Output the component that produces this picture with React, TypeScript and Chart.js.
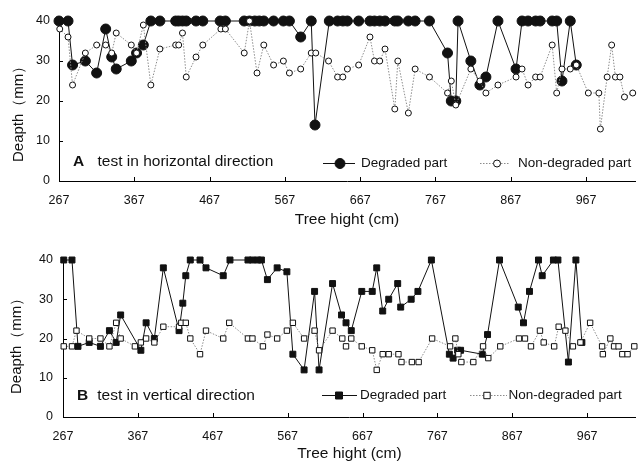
import { useEffect, useRef } from 'react';
import { Chart, registerables } from 'chart.js';

Chart.register(...registerables);

const FONT = "'Liberation Sans', Arial, Helvetica, sans-serif";

const xTickValues = [267, 367, 467, 567, 667, 767, 867, 967];
const yTickValues = [0, 10, 20, 30, 40];
const X_MIN = 267;
const X_MAX = 1032;
const Y_TITLE = 'Deapth（mm）';
const X_TITLE = 'Tree hight (cm)';

// Panel A: test in horizontal direction
const aDegX = [267, 279, 285, 302, 317, 329, 337, 343, 363, 370, 379, 389, 401, 422, 426, 431, 436, 449, 458, 481, 488, 513, 520, 527, 533, 539, 552, 565, 573, 588, 602, 607, 626, 637, 644, 650, 665, 680, 686, 693, 700, 713, 717, 731, 740, 759, 783, 788, 794, 797, 814, 826, 834, 850, 874, 882, 890, 900, 906, 922, 928, 935, 946, 954];
const aDegY = [40, 40, 29, 30, 27, 38, 31, 28, 30, 32, 34, 40, 40, 40, 40, 40, 40, 40, 40, 40, 40, 40, 40, 40, 40, 40, 40, 40, 40, 36, 40, 14, 40, 40, 40, 40, 40, 40, 40, 40, 40, 40, 40, 40, 40, 40, 32, 20, 20, 40, 30, 24, 26, 40, 28, 40, 40, 40, 40, 40, 40, 25, 40, 29];
const aNonX = [268, 279, 285, 302, 317, 329, 337, 343, 363, 370, 379, 389, 401, 422, 426, 431, 436, 449, 458, 482, 488, 513, 520, 530, 539, 552, 565, 573, 588, 602, 608, 625, 637, 644, 650, 665, 680, 686, 693, 700, 713, 717, 731, 740, 759, 783, 788, 794, 814, 826, 834, 850, 874, 882, 890, 900, 906, 922, 928, 935, 946, 954, 970, 984, 986, 995, 1001, 1006, 1012, 1018, 1029];
const aNonY = [38, 36, 24, 32, 34, 34, 32, 37, 34, 32, 39, 24, 33, 34, 34, 37, 26, 31, 34, 38, 38, 32, 40, 27, 34, 29, 30, 27, 28, 32, 32, 30, 26, 26, 28, 29, 36, 30, 30, 33, 18, 30, 17, 28, 26, 22, 25, 19, 28, 25, 22, 24, 26, 28, 24, 26, 26, 34, 22, 28, 28, 29, 22, 22, 13, 26, 34, 26, 26, 21, 22];

// Panel B: test in vertical direction
const bDegX = [268, 279, 287, 302, 317, 329, 338, 344, 371, 378, 389, 401, 422, 427, 431, 437, 450, 458, 481, 490, 514, 520, 527, 532, 540, 553, 566, 574, 589, 603, 609, 627, 639, 645, 652, 666, 680, 686, 694, 702, 714, 718, 732, 741, 759, 783, 788, 794, 798, 827, 834, 850, 875, 882, 890, 902, 907, 922, 928, 942, 952, 960];
const bDegY = [40, 40, 18, 19, 18, 22, 19, 26, 17, 24, 20, 38, 22, 29, 36, 40, 40, 38, 36, 40, 40, 40, 40, 40, 35, 38, 37, 16, 12, 32, 12, 34, 26, 24, 22, 32, 32, 38, 27, 30, 34, 28, 30, 32, 40, 16, 15, 17, 17, 16, 21, 40, 28, 24, 32, 40, 36, 40, 40, 14, 40, 19];
const bNonX = [268, 279, 285, 302, 317, 329, 338, 344, 363, 371, 378, 389, 401, 422, 425, 431, 437, 450, 458, 481, 489, 514, 520, 534, 540, 553, 566, 574, 589, 603, 609, 627, 640, 645, 652, 666, 680, 686, 694, 702, 715, 719, 733, 742, 760, 784, 791, 795, 799, 815, 828, 835, 851, 876, 884, 892, 904, 909, 923, 929, 938, 948, 958, 971, 987, 988, 998, 1003, 1009, 1014, 1021, 1030];
const bNonY = [18, 18, 22, 20, 20, 18, 24, 20, 18, 19, 20, 19, 23, 23, 24, 24, 20, 16, 22, 20, 24, 20, 20, 18, 21, 20, 22, 24, 20, 22, 17, 22, 20, 18, 20, 18, 17, 12, 16, 16, 16, 14, 14, 14, 20, 18, 20, 16, 14, 14, 18, 15, 18, 20, 20, 18, 22, 19, 18, 23, 22, 18, 19, 24, 18, 16, 20, 18, 18, 16, 16, 18];

const zip = (xs: number[], ys: number[]) => xs.map((x, i) => ({ x, y: ys[i] }));

type PanelCfg = {
  letter: string;
  caption: string;
  marker: 'circle' | 'rect';
  height: number;
  padTop: number;
  padRight: number;
  yW: number;
  xH: number;
  xPad: number;
  yPad: number;
  xTitlePad: number;
  yTitleX: number;
  yTitleStart: number;
  degR: number;
  nonR: number;
  letterX: number;
  captionX: number;
  annY: number;
  leg: { l1: number; l2: number; m1: number; t1: number; d1: number; d2: number; m2: number; t2: number; y: number; degR: number; nonR: number };
};

const panelA: PanelCfg = {
  letter: 'A', caption: 'test in horizontal direction', marker: 'circle', height: 232,
  padTop: 21, padRight: 1, yW: 59, xH: 51, xPad: 12, yPad: 9, xTitlePad: 3,
  yTitleX: 18.5, yTitleStart: 162,
  degR: 5, nonR: 3, letterX: 73, captionX: 97.5, annY: 162,
  leg: { l1: 323, l2: 355, m1: 340, t1: 361, d1: 480, d2: 510, m2: 497, t2: 518, y: 163, degR: 5, nonR: 3.5 },
};

const panelB: PanelCfg = {
  letter: 'B', caption: 'test in vertical direction', marker: 'rect', height: 231,
  padTop: 28, padRight: 0, yW: 63, xH: 46, xPad: 12.5, yPad: 10, xTitlePad: 0,
  yTitleX: 16.5, yTitleStart: 162,
  degR: 4.2, nonR: 3.8, letterX: 77, captionX: 97.3, annY: 163.5,
  leg: { l1: 322, l2: 357, m1: 339, t1: 360, d1: 470, d2: 507, m2: 487, t2: 508.5, y: 163, degR: 3.5, nonR: 3.2 },
};

function drawMarker(ctx: CanvasRenderingContext2D, kind: string, x: number, y: number, r: number, fill: string) {
  ctx.beginPath();
  if (kind === 'circle') ctx.arc(x, y, r, 0, Math.PI * 2);
  else ctx.rect(x - r, y - r, 2 * r, 2 * r);
  ctx.fillStyle = fill;
  ctx.fill();
  ctx.lineWidth = 1;
  ctx.strokeStyle = '#111';
  ctx.stroke();
}

function decorPlugin(p: PanelCfg) {
  return {
    id: 'decor' + p.letter,
    beforeDatasetsDraw(chart: any) {
      const ctx = chart.ctx as CanvasRenderingContext2D;
      const { left, bottom } = chart.chartArea;
      const xs = chart.scales.x;
      const ys = chart.scales.y;
      ctx.save();
      ctx.strokeStyle = '#000';
      ctx.lineWidth = 1;
      ctx.beginPath();
      xTickValues.forEach((v) => {
        const px = Math.round(xs.getPixelForValue(v)) + 0.5;
        ctx.moveTo(px, bottom);
        ctx.lineTo(px, bottom - 4);
      });
      yTickValues.forEach((v) => {
        const py = Math.round(ys.getPixelForValue(v)) + 0.5;
        ctx.moveTo(left, py);
        ctx.lineTo(left + 4, py);
      });
      ctx.stroke();
      ctx.restore();
    },
    afterDraw(chart: any) {
      const ctx = chart.ctx as CanvasRenderingContext2D;
      ctx.save();
      // y-axis title (rotated)
      ctx.save();
      ctx.translate(p.yTitleX, p.yTitleStart);
      ctx.rotate(-Math.PI / 2);
      ctx.textBaseline = 'middle';
      ctx.textAlign = 'left';
      ctx.fillStyle = '#111';
      ctx.font = `15px ${FONT}`;
      ctx.fillText(Y_TITLE, 0, 0);
      ctx.restore();

      ctx.textBaseline = 'middle';
      ctx.textAlign = 'left';
      ctx.fillStyle = '#111';
      ctx.font = `bold 15.5px ${FONT}`;
      ctx.fillText(p.letter, p.letterX, p.annY);
      ctx.font = `15.5px ${FONT}`;
      ctx.fillText(p.caption, p.captionX, p.annY);

      const L = p.leg;
      ctx.setLineDash([]);
      ctx.strokeStyle = '#111';
      ctx.lineWidth = 1;
      ctx.beginPath();
      ctx.moveTo(L.l1, L.y + 0.5);
      ctx.lineTo(L.l2, L.y + 0.5);
      ctx.stroke();
      drawMarker(ctx, p.marker, L.m1, L.y + 0.5, L.degR, '#111');
      ctx.strokeStyle = '#8c8c8c';
      ctx.setLineDash([1.5, 1.5]);
      ctx.beginPath();
      ctx.moveTo(L.d1, L.y + 0.5);
      ctx.lineTo(L.d2, L.y + 0.5);
      ctx.stroke();
      ctx.setLineDash([]);
      drawMarker(ctx, p.marker, L.m2, L.y + 0.5, L.nonR, '#fff');

      ctx.fillStyle = '#111';
      ctx.font = `13.5px ${FONT}`;
      ctx.fillText('Degraded part', L.t1, L.y);
      ctx.fillText('Non-degraded part', L.t2, L.y);
      ctx.restore();
    },
  };
}

function buildChart(canvas: HTMLCanvasElement, p: PanelCfg, degX: number[], degY: number[], nonX: number[], nonY: number[]) {
  return new Chart(canvas, {
    type: 'line',
    data: {
      datasets: [
        {
          label: 'Non-degraded part',
          data: zip(nonX, nonY),
          borderColor: '#8c8c8c',
          borderWidth: 1,
          borderDash: [1.5, 1.5],
          pointStyle: p.marker,
          pointRadius: p.nonR,
          pointBackgroundColor: '#ffffff',
          pointBorderColor: '#111',
          pointBorderWidth: 1,
          tension: 0,
          clip: false,
        } as any,
        {
          label: 'Degraded part',
          data: zip(degX, degY),
          borderColor: '#111',
          borderWidth: 1,
          pointStyle: p.marker,
          pointRadius: p.degR,
          pointBackgroundColor: '#111',
          pointBorderColor: '#111',
          pointBorderWidth: 1,
          tension: 0,
          clip: false,
        } as any,
      ],
    },
    options: {
      animation: false,
      responsive: false,
      events: [],
      layout: { padding: { top: p.padTop, right: p.padRight, left: 0, bottom: 0 } },
      plugins: { legend: { display: false }, tooltip: { enabled: false } },
      scales: {
        x: {
          type: 'linear',
          min: X_MIN,
          max: X_MAX,
          afterBuildTicks: (s: any) => {
            s.ticks = xTickValues.map((v) => ({ value: v }));
          },
          afterFit: (s: any) => {
            s.height = p.xH;
          },
          grid: { display: false, drawTicks: false },
          border: { display: true, color: '#000', width: 1 },
          ticks: {
            color: '#111',
            font: { family: FONT, size: 12.5 },
            padding: p.xPad,
            maxRotation: 0,
            autoSkip: false,
            callback: (v: any) => String(v),
          },
          title: {
            display: true,
            text: X_TITLE,
            color: '#111',
            font: { family: FONT, size: 15.5 },
            padding: { top: 0, bottom: p.xTitlePad },
          },
        },
        y: {
          type: 'linear',
          min: 0,
          max: 40,
          afterBuildTicks: (s: any) => {
            s.ticks = yTickValues.map((v) => ({ value: v }));
          },
          afterFit: (s: any) => {
            s.width = p.yW;
          },
          grid: { display: false, drawTicks: false },
          border: { display: true, color: '#000', width: 1 },
          ticks: {
            color: '#111',
            font: { family: FONT, size: 12.5 },
            padding: p.yPad,
            callback: (v: any) => String(v),
          },
          title: { display: false },
        },
      },
    } as any,
    plugins: [decorPlugin(p)],
  });
}

export default function App() {
  const refA = useRef<HTMLCanvasElement>(null);
  const refB = useRef<HTMLCanvasElement>(null);

  useEffect(() => {
    const cA = buildChart(refA.current!, panelA, aDegX, aDegY, aNonX, aNonY);
    const cB = buildChart(refB.current!, panelB, bDegX, bDegY, bNonX, bNonY);
    return () => {
      cA.destroy();
      cB.destroy();
    };
  }, []);

  return (
    <div style={{ position: 'fixed', left: 0, top: 0, width: 641, height: 463, background: '#fff' }}>
      <canvas ref={refA} width={641} height={panelA.height} style={{ position: 'absolute', left: 0, top: 0, display: 'block' }} />
      <canvas ref={refB} width={641} height={panelB.height} style={{ position: 'absolute', left: 0, top: panelA.height, display: 'block' }} />
    </div>
  );
}
